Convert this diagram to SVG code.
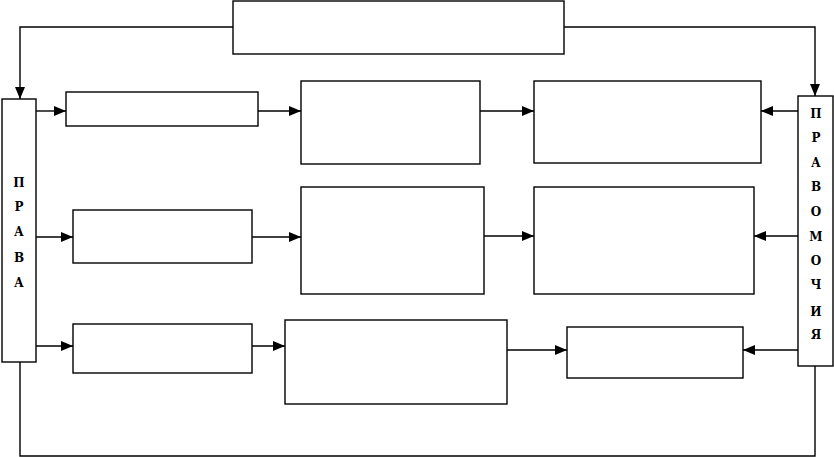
<svg xmlns="http://www.w3.org/2000/svg" width="834" height="457" viewBox="0 0 834 457">
<defs>
<marker id="ar" markerWidth="12" markerHeight="10" refX="12" refY="5" orient="auto" markerUnits="userSpaceOnUse">
<path d="M0,0 L12,5 L0,10 z" fill="#000"/>
</marker>
<style>
.box{fill:#fff;stroke:#000;stroke-width:1.4}
.ln{fill:none;stroke:#000;stroke-width:1.4}
.ar{marker-end:url(#ar)}
.lt{font-family:"DejaVu Serif","Liberation Serif",serif;font-weight:bold;font-size:12px;text-anchor:middle;fill:#000}
</style>
</defs>
<rect width="834" height="457" fill="#fff"/>
<g id="connectors">
<path class="ln ar" d="M233,27 H20 V99"/>
<path class="ln ar" d="M564,27 H815 V96"/>
<path class="ln" d="M20,362 V456 H815 V366"/>
<path class="ln ar" d="M36,111 H66"/>
<path class="ln ar" d="M258,111 H301"/>
<path class="ln ar" d="M480,111 H534"/>
<path class="ln ar" d="M798,111 H761"/>
<path class="ln ar" d="M36,237 H73"/>
<path class="ln ar" d="M252,237 H301"/>
<path class="ln ar" d="M484,236 H534"/>
<path class="ln ar" d="M798,236 H754"/>
<path class="ln ar" d="M36,346 H73"/>
<path class="ln ar" d="M252,346 H285"/>
<path class="ln ar" d="M507,350 H567"/>
<path class="ln ar" d="M798,350 H743"/>
</g>
<g id="top"><rect class="box" x="233" y="1" width="331" height="53"/></g>
<g id="prava">
<rect class="box" x="2" y="99" width="34" height="263"/>
<text class="lt" x="19" y="187">П</text>
<text class="lt" x="19" y="211">Р</text>
<text class="lt" x="19" y="236">А</text>
<text class="lt" x="19" y="262">В</text>
<text class="lt" x="19" y="287">А</text>
</g>
<g id="pravomochiya">
<rect class="box" x="798" y="96" width="35" height="270"/>
<text class="lt" x="816" y="118">П</text>
<text class="lt" x="816" y="142">Р</text>
<text class="lt" x="816" y="167">А</text>
<text class="lt" x="816" y="191">В</text>
<text class="lt" x="816" y="216">О</text>
<text class="lt" x="816" y="241">М</text>
<text class="lt" x="816" y="265">О</text>
<text class="lt" x="816" y="289">Ч</text>
<text class="lt" x="816" y="316">И</text>
<text class="lt" x="816" y="339">Я</text>
</g>
<g id="r1a"><rect class="box" x="66" y="92" width="192" height="34"/></g>
<g id="r1b"><rect class="box" x="301" y="81" width="179" height="83"/></g>
<g id="r1c"><rect class="box" x="534" y="81" width="227" height="82"/></g>
<g id="r2a"><rect class="box" x="73" y="210" width="179" height="53"/></g>
<g id="r2b"><rect class="box" x="301" y="187" width="183" height="107"/></g>
<g id="r2c"><rect class="box" x="534" y="187" width="220" height="107"/></g>
<g id="r3a"><rect class="box" x="73" y="324" width="179" height="49"/></g>
<g id="r3b"><rect class="box" x="285" y="320" width="222" height="84"/></g>
<g id="r3c"><rect class="box" x="567" y="327" width="176" height="51"/></g>
</svg>
